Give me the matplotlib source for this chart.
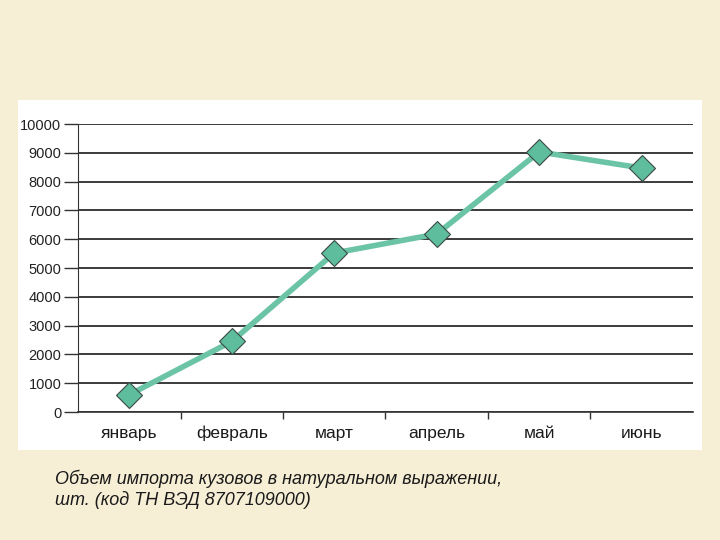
import matplotlib
matplotlib.use("Agg")
import matplotlib.pyplot as plt
from matplotlib.patches import Rectangle

plt.rcParams['font.family'] = ['Liberation Sans', 'DejaVu Sans']

# Monthly import volume of car bodies, pcs
months = ['январь', 'февраль', 'март', 'апрель', 'май', 'июнь']
volume = [600, 2450, 5520, 6180, 9030, 8470]
yticks = list(range(0, 10001, 1000))

caption = ("Объем импорта кузовов в натуральном выражении,\n"
           "шт. (код ТН ВЭД 8707109000)")

fig = plt.figure(figsize=(7.2, 5.4), dpi=100)
fig.patch.set_facecolor('#f6efd6')

# white scanned panel behind the chart
fig.add_artist(Rectangle((18 / 720, 1 - 450 / 540), 684 / 720, 350 / 540,
                         transform=fig.transFigure, facecolor='white',
                         edgecolor='none', zorder=0))

ax = fig.add_axes([78 / 720, 1 - 412 / 540, 615 / 720, 288 / 540])
ax.set_facecolor('none')

x = range(len(months))
ax.plot(x, volume, color='#6cc4a6', lw=4, zorder=3,
        marker='D', markersize=13, markerfacecolor='#5dbd9c',
        markeredgecolor='#3a4a44', markeredgewidth=0.8, clip_on=False)

ax.set_xlim(-0.5, len(months) - 0.5)
ax.set_ylim(0, 10000)
ax.set_yticks(yticks)
ax.set_yticklabels([str(v) for v in yticks], fontsize=10.5, color='#222222')
ax.set_xticks(x)
ax.set_xticklabels(months, fontsize=12.5, color='#1a1a1a')
ax.tick_params(axis='x', length=0, pad=10)
ax.tick_params(axis='y', length=10, width=1, color='#333333', pad=2)

# minor ticks between categories on the x axis
ax.set_xticks([i + 0.5 for i in range(len(months) - 1)], minor=True)
ax.tick_params(axis='x', which='minor', length=5, width=1, color='#333333')

ax.grid(axis='y', color='#1a1a1a', lw=1.2)
ax.set_axisbelow(True)
for s in ['top', 'right']:
    ax.spines[s].set_visible(False)
ax.spines['left'].set_color('#333333')
ax.spines['bottom'].set_color('#333333')
ax.spines['bottom'].set_linewidth(1.2)

fig.text(55 / 720, 1 - 470 / 540, caption, fontsize=13, style='italic',
         color='#1a1a1a', va='top', linespacing=1.2)

fig.savefig('out.png', dpi=100, facecolor=fig.get_facecolor())
